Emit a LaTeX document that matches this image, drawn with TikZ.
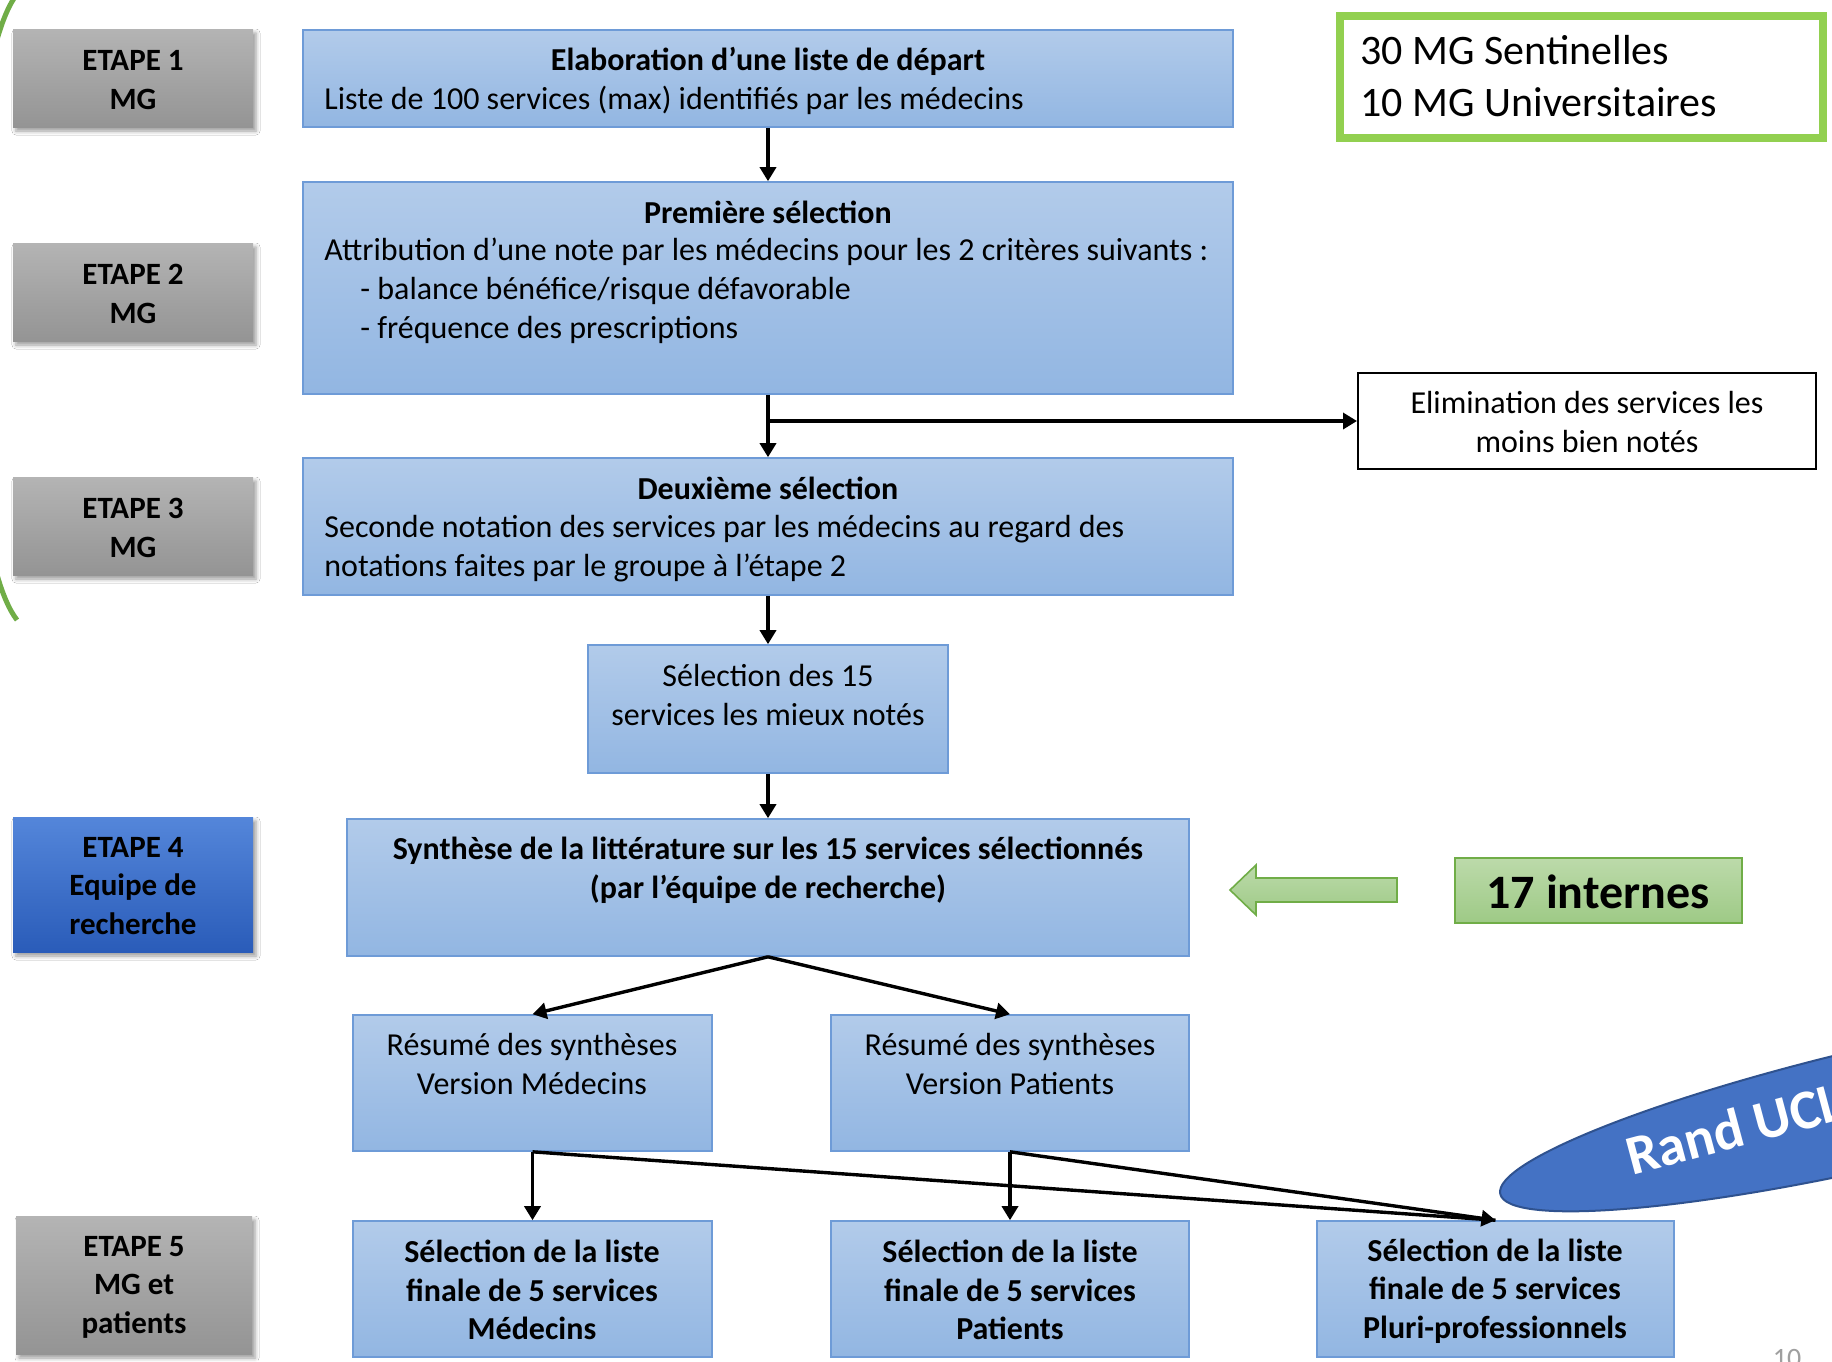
\documentclass[tikz,border=0pt]{standalone}
\usepackage{fontspec}
\setmainfont{Carlito}
\usetikzlibrary{arrows.meta,fit,shadows,shadows.blur,shapes.geometric}
\definecolor{bluetop}{RGB}{178,203,234}
\definecolor{bluebot}{RGB}{146,182,226}
\definecolor{blueedge}{RGB}{110,155,215}
\definecolor{graytop}{RGB}{180,180,180}
\definecolor{graybot}{RGB}{148,148,148}
\definecolor{etbtop}{RGB}{84,134,218}
\definecolor{etbbot}{RGB}{42,92,185}
\definecolor{randfill}{RGB}{68,114,196}
\definecolor{randedge}{RGB}{47,82,143}
\definecolor{grtop}{RGB}{188,218,170}
\definecolor{grbot}{RGB}{158,202,134}
\definecolor{gredge}{RGB}{112,173,71}
\definecolor{grbright}{RGB}{146,208,80}
\newcommand\mainsz{\fontsize{16}{19.3}\selectfont}
\begin{document}
\begin{tikzpicture}[x=0.5pt,y=-0.5pt,
  bluebox/.style={draw=blueedge, line width=0.8pt, top color=bluetop, bottom color=bluebot, inner sep=0pt,
    drop shadow={shadow xshift=0.7pt, shadow yshift=-0.7pt, fill=black, opacity=0.75}},
  etapebox/.style={line width=0pt, top color=graytop, bottom color=graybot, inner sep=0pt,
    blur shadow={shadow xshift=1.5pt, shadow yshift=-2pt, shadow blur radius=2pt, shadow opacity=40}},
  etapeblue/.style={etapebox, top color=etbtop, bottom color=etbbot},
  etxt/.style={inner sep=0pt, align=center, font=\bfseries\fontsize{15.5}{19.3}\selectfont},
  txt/.style={inner sep=0pt, font=\mainsz, align=center},
  btxt/.style={inner sep=0pt, font=\bfseries\mainsz, align=center},
  ltxt/.style={inner sep=0pt, font=\mainsz, anchor=west},
  arr/.style={line width=1.7pt, -{Triangle[length=7pt,width=8pt]}},
  plain/.style={line width=1.7pt}
]
\useasboundingbox (0,0) rectangle (1832,1361);
\clip (0,0) rectangle (1832,1361);
\fill[white] (0,0) rectangle (1832,1361);

% green arc on the left
\draw[gredge, line width=2.5pt] (17,620) .. controls (-45,540) and (-45,75) .. (17,-6);

% ETAPE boxes
\node[etapebox, fit={(13,29) (253,127)}] (e1) {};
\node[etapebox, fit={(13,243) (253,341)}] (e2) {};
\node[etapebox, fit={(13,477) (253,575)}] (e3) {};
\node[etapeblue, fit={(13,817) (253,952)}] (e4) {};
\node[etapebox, fit={(16,1216) (252,1354)}] (e5) {};
\node[etxt] (te1) at (133,80) {ETAPE 1\\MG};
\node[etxt] (te2) at (133,294) {ETAPE 2\\MG};
\node[etxt] (te3) at (133,528) {ETAPE 3\\MG};
\node[etxt] (te4) at (133,886) {ETAPE 4\\Equipe de\\recherche};
\node[etxt] (te5) at (134,1287) {ETAPE 5\\MG et\\patients};

% main blue boxes
\node[bluebox, fit={(303,30) (1233,127)}] (b1) {};
\node[bluebox, fit={(303,182) (1233,394)}] (b2) {};
\node[bluebox, fit={(303,458) (1233,595)}] (b3) {};
\node[bluebox, fit={(588,645) (948,773)}] (b4) {};
\node[bluebox, fit={(347,819) (1189,956)}] (b5) {};
\node[bluebox, fit={(353,1015) (712,1151)}] (b6) {};
\node[bluebox, fit={(831,1015) (1189,1151)}] (b7) {};
\node[bluebox, fit={(353,1221) (712,1357)}] (b8) {};
\node[bluebox, fit={(831,1221) (1189,1357)}] (b9) {};
\node[bluebox, fit={(1317,1221) (1674,1357)}] (b10) {};

% texts of box 1
\node[btxt] (t1a) at (768,61) {Elaboration d’une liste de départ};
\node[ltxt] (t1b) at (324,100) {Liste de 100 services (max) identifiés par les médecins};
% texts of box 2
\node[btxt] (t2a) at (768,212) {Première sélection};
\node[ltxt] (t2b) at (324,252) {Attribution d’une note par les médecins pour les 2 critères suivants :};
\node[ltxt] (t2c) at (360,291) {- balance bénéfice/risque défavorable};
\node[ltxt] (t2d) at (360,330) {- fréquence des prescriptions};
% texts of box 3
\node[btxt] (t3a) at (768,488) {Deuxième sélection};
\node[ltxt] (t3b) at (324,529) {Seconde notation des services par les médecins au regard des};
\node[ltxt] (t3c) at (324,568) {notations faites par le groupe à l’étape 2};
% other texts
\node[txt] (t4) at (768,695) {Sélection des 15\\services les mieux notés};
\node[btxt] (t5) at (768,870) {Synthèse de la littérature sur les 15 services sélectionnés\\(par l’équipe de recherche)};
\node[txt] (t6) at (532,1064) {Résumé des synthèses\\Version Médecins};
\node[txt] (t7) at (1010,1064) {Résumé des synthèses\\Version Patients};
\node[btxt] (t8) at (532,1290) {Sélection de la liste\\finale de 5 services\\Médecins};
\node[btxt] (t9) at (1010,1290) {Sélection de la liste\\finale de 5 services\\Patients};
\node[btxt] (t10) at (1495,1291) {Sélection de la liste\\finale de 5 services\\Pluri-professionnels};

% elimination box
\node[draw=black, line width=1pt, fill=white, inner sep=0pt, fit={(1358,373) (1816,469)}] (elim) {};
\node[txt] (telim) at (1587,422) {Elimination des services les\\moins bien notés};

% top-right green frame
\node[draw=grbright, line width=4pt, inner sep=0pt, fit={(1340,16) (1823,138)}] (mg) {};
\node[inner sep=0pt, anchor=west, align=left, font=\fontsize{21}{26}\selectfont] (tmg) at (1360,76) {30 MG Sentinelles\\10 MG Universitaires};

% 17 internes
\node[draw=gredge, line width=0.8pt, top color=grtop, bottom color=grbot, inner sep=0pt,
  fit={(1455,858) (1742,923)}] (int) {};
\node[inner sep=0pt, font=\bfseries\fontsize{24}{28}\selectfont] (tint) at (1598,892) {17 internes};
% green block arrow
\path[draw=gredge, line width=0.8pt, top color=grtop, bottom color=grbot]
  (1230,890) -- (1256,865) -- (1256,878) -- (1397,878) -- (1397,902) -- (1256,902) -- (1256,915) -- cycle;

% Rand UCL ellipse
\node[ellipse, draw=randedge, line width=1pt, fill=randfill, rotate=13,
  minimum width=400pt, minimum height=60pt, inner sep=0pt] (rand) at (1890,1104) {};
\node[text=white, font=\bfseries\fontsize{28}{32}\selectfont, rotate=15, anchor=base west, inner sep=0pt]
  (trand) at (1632,1176) {Rand UCL};

% page number
\node[text=gray!75, font=\fontsize{14}{16}\selectfont, anchor=north, inner sep=0pt] (pg) at (1787,1349) {10};

% connectors
\draw[arr] (b1.south) -- (b2.north);
\draw[arr] (b2.south) -- (b3.north);
\draw[arr] (b2.south |- elim.west) -- (elim.west);
\draw[arr] (b3.south) -- (b4.north);
\draw[arr] (b4.south) -- (b5.north);
\draw[arr] (b5.south) -- (b6.north);
\draw[arr] (b5.south) -- (b7.north);
\draw[arr] (b6.south) -- (b8.north);
\draw[arr] (b7.south) -- (b9.north);
\draw[plain] (b6.south) -- (b10.north);
\draw[arr] (b7.south) -- (b10.north);
\end{tikzpicture}
\end{document}
